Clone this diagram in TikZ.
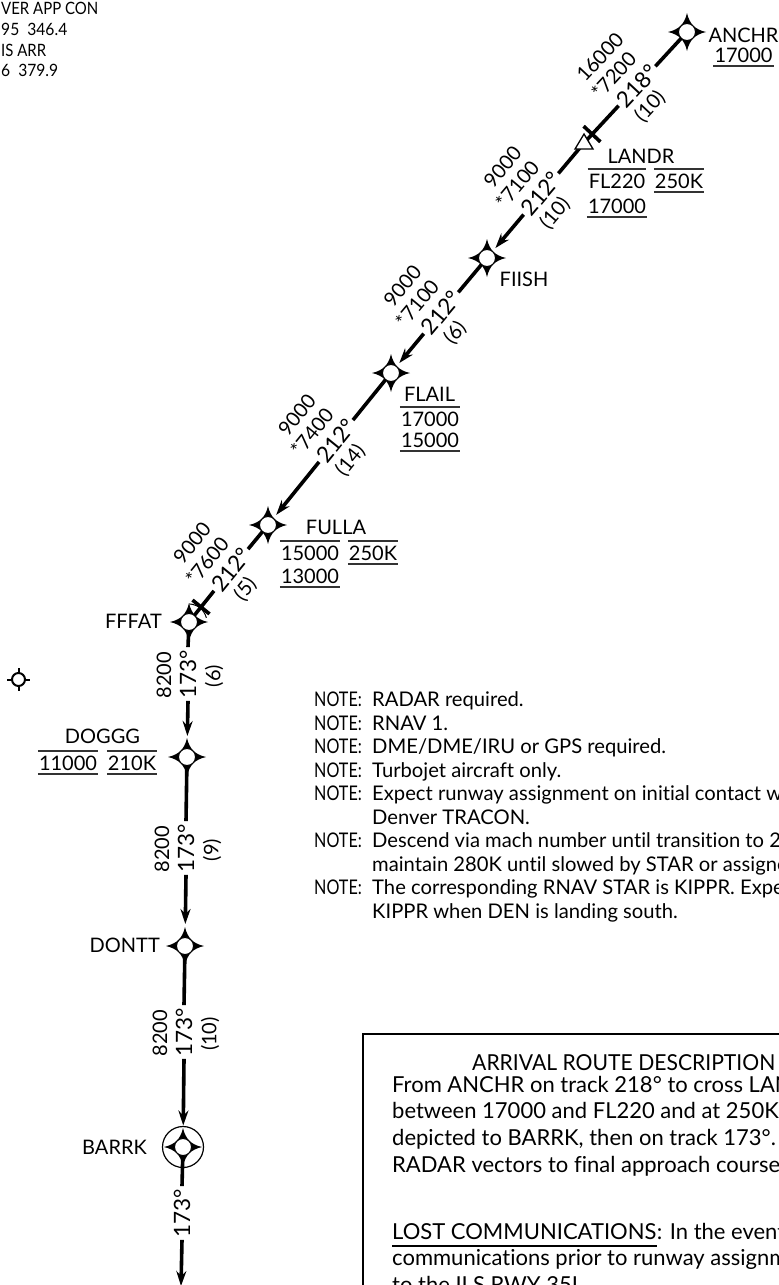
\documentclass[tikz,border=0pt]{standalone}
\usepackage{fontspec}
\setmainfont[Ligatures=NoCommon]{Lato}
\usetikzlibrary{arrows.meta,calc}
\newcommand{\wpstar}[1]{%
  \begin{scope}[shift={(#1)}]
    \fill (19,0) .. controls (8,-2.5) and (2.5,-8) .. (0,-19) .. controls (-2.5,-8) and (-8,-2.5) .. (-19,0) .. controls (-8,2.5) and (-2.5,8) .. (0,19) .. controls (2.5,8) and (8,2.5) .. (19,0) -- cycle;
    \filldraw[fill=white, line width=1pt] (0,0) circle (8.5);
  \end{scope}}
\newcommand{\ovl}[1]{\draw[rl] ([xshift=-1pt,yshift=19pt]#1.base west) -- ([xshift=1pt,yshift=19pt]#1.base east);}
\newcommand{\unl}[1]{\draw[rl] ([xshift=-1pt,yshift=-4pt]#1.base west) -- ([xshift=1pt,yshift=-4pt]#1.base east);}
\newcommand{\nt}{\scalebox{0.8}[1]{NOTE:}}
% diagonal segment labels: name, x, y, angle, degree, top, star, paren
\newcommand{\seglab}[8]{%
  \begin{scope}[shift={(#2,#3)}, rotate=#4, transform shape]
    \node[deg] (#1) at (0,0) {#5};
    \node[lbl] (#1t) at (-4,-47) {#6};
    \node[lbl] (#1s) at (-8,-24.5) {#7};
    \node[lbl] (#1p) at (-6,23.5) {#8};
  \end{scope}}
% vertical segment labels: name, x, y, degree, left, right
\newcommand{\vseglab}[6]{%
  \begin{scope}[shift={(#2,#3)}, rotate=90, transform shape]
    \node[deg] (#1) at (0,0) {#4};
    \node[lbl] (#1t) at (-1,-24) {#5};
    \node[lbl] (#1p) at (-2,26) {#6};
  \end{scope}}
\begin{document}
\begin{tikzpicture}[x=1pt,y=-1pt,
  lbl/.style={font=\fontsize{20}{24}\selectfont, inner sep=0pt},
  wl/.style={lbl, anchor=base},
  deg/.style={font=\fontsize{22.5}{26}\selectfont, inner sep=2.5pt},
  note/.style={font=\fontsize{20.2}{24}\selectfont, inner sep=0pt, anchor=base west},
  boxt/.style={font=\fontsize{22}{26}\selectfont, inner sep=0pt, anchor=base west},
  small/.style={font=\fontsize{17}{20}\selectfont, inner sep=0pt, anchor=base west},
  route/.style={line width=3.6pt},
  arr/.style={route, -{Stealth[length=15pt,width=10pt,inset=5pt]}},
  rl/.style={line width=1.3pt, black!80}]
\useasboundingbox (0,0) rectangle (779,1285);
\clip (0,0) rectangle (779,1285);

% top-left frequencies
\node[small] (f1) at (1,14) {\scalebox{0.88}[1]{VER APP CON}};
\node[small] (f2) at (1,35) {\scalebox{0.92}[1]{95\ \ 346.4}};
\node[small] (f3) at (1,56) {\scalebox{0.88}[1]{IS ARR}};
\node[small] (f4) at (1,76) {\scalebox{0.92}[1]{6\ \ 379.9}};

% waypoints
\node[coordinate] (ANCHR) at (687,32) {};
\node[coordinate] (LANDR) at (584,143) {};
\node[coordinate] (FIISH) at (487,258) {};
\node[coordinate] (FLAIL) at (391,373) {};
\node[coordinate] (FULLA) at (268,525) {};
\node[coordinate] (FFFAT) at (189,622) {};
\node[coordinate] (DOGGG) at (187,757) {};
\node[coordinate] (DONTT) at (185,946) {};
\node[coordinate] (BARRK) at (183,1147) {};
\node[coordinate] (END) at (181,1286) {};
\node[coordinate] (VOR) at (18.5,679.5) {};

% segment labels
\seglab{d1}{637}{86}{47}{218°}{16000}{*7200}{(10)}
\seglab{d2}{541}{194}{49.8}{212°}{9000}{*7100}{(10)}
\seglab{d3}{441}{313}{50.1}{212°}{9000}{*7100}{(6)}
\seglab{d4}{336}{441}{51}{212°}{9000}{*7400}{(14)}
\seglab{d5}{231}{570}{50.8}{212°}{9000}{*7600}{(5)}
\vseglab{d6}{188}{674}{173°}{8200}{(6)}
\vseglab{d7}{186}{848}{173°}{8200}{(9)}
\vseglab{d8}{184}{1032}{173°}{8200}{(10)}
\vseglab{d9}{182}{1213}{173°}{}{}

% route
\draw[route] (ANCHR) -- (d1.east);
\draw[route] (d1.west) -- (LANDR);
\draw[route] (LANDR) -- (d2.east);
\draw[arr, shorten >=13pt] (d2.west) -- (FIISH);
\draw[route] (FIISH) -- (d3.east);
\draw[arr, shorten >=13pt] (d3.west) -- (FLAIL);
\draw[route] (FLAIL) -- (d4.east);
\draw[arr, shorten >=13pt] (d4.west) -- (FULLA);
\draw[route] (FULLA) -- (d5.east);
\draw[route] (d5.west) -- (FFFAT);
\draw[route] (FFFAT) -- (d6.east);
\draw[arr, shorten >=21pt] (d6.west) -- (DOGGG);
\draw[route] (DOGGG) -- (d7.east);
\draw[arr, shorten >=22pt] (d7.west) -- (DONTT);
\draw[route] (DONTT) -- (d8.east);
\draw[arr, shorten >=21.5pt] (d8.west) -- (BARRK);
\draw[route] (BARRK) -- (d9.east);
\draw[arr] (d9.west) -- (END);

% bars and marks
\begin{scope}[shift={(592,134)}, rotate=47]
  \draw[line width=3.6pt] (0,-11.5) -- (0,11.5);
\end{scope}
\begin{scope}[shift={(201,607)}, rotate=50.8]
  \draw[line width=3.6pt] (0,-11) -- (0,11);
  \draw[line width=1pt] (-5,-11) to[bend left=35] (-5,11);
\end{scope}
\filldraw[fill=white, line width=1.3pt] (575,149) -- (584,134) -- (593,149) -- cycle;

% waypoint symbols
\wpstar{ANCHR}
\wpstar{FIISH}
\wpstar{FLAIL}
\wpstar{FULLA}
\wpstar{FFFAT}
\wpstar{DOGGG}
\wpstar{DONTT}
\wpstar{BARRK}
\draw[line width=1.2pt] (BARRK) circle (20.5);

% small symbol
\draw[line width=2pt] (VOR) circle (6.5);
\draw[line width=2pt] ($(VOR)+(0,-6.5)$) -- ++(0,-5);
\draw[line width=2pt] ($(VOR)+(0,6.5)$) -- ++(0,5);
\draw[line width=2pt] ($(VOR)+(-6.5,0)$) -- ++(-5,0);
\draw[line width=2pt] ($(VOR)+(6.5,0)$) -- ++(5,0);

% waypoint labels
\node[wl] (tANCHR) at (743.5,42) {ANCHR};
\node[wl] (aANCHR) at (743.5,62) {17000};
\unl{aANCHR}

\node[wl] (tLANDR) at (641,163) {LANDR};
\node[wl] (aLANDR1) at (617,188) {FL220};
\node[wl] (sLANDR) at (679,188) {250K};
\node[wl] (aLANDR2) at (617,213) {17000};
\ovl{aLANDR1}
\ovl{sLANDR}
\unl{sLANDR}
\unl{aLANDR2}

\node[wl] (tFIISH) at (524,286) {FIISH};

\node[wl] (tFLAIL) at (429.5,401) {FLAIL};
\node[wl] (aFLAIL1) at (430,426) {17000};
\node[wl] (aFLAIL2) at (430,447) {15000};
\ovl{aFLAIL1}
\unl{aFLAIL2}

\node[wl] (tFULLA) at (336,534) {FULLA};
\node[wl] (aFULLA1) at (310,560) {15000};
\node[wl] (sFULLA) at (373,560) {250K};
\node[wl] (aFULLA2) at (310,583) {13000};
\ovl{aFULLA1}
\ovl{sFULLA}
\unl{sFULLA}
\unl{aFULLA2}

\node[lbl, anchor=base east] (tFFFAT) at (162,628) {FFFAT};

\node[wl] (tDOGGG) at (102.5,743) {DOGGG};
\node[wl] (aDOGGG) at (68,770) {11000};
\node[wl] (sDOGGG) at (132,770) {210K};
\ovl{aDOGGG}
\unl{aDOGGG}
\ovl{sDOGGG}
\unl{sDOGGG}

\node[lbl, anchor=base east] (tDONTT) at (160,952) {DONTT};
\node[lbl, anchor=base east] (tBARRK) at (147,1154) {BARRK};

% notes
\node[note] (n1) at (314,706) {\nt};
\node[note] (n1b) at (372,706) {RADAR required.};
\node[note] (n2) at (314,730) {\nt};
\node[note] (n2b) at (372,730) {RNAV 1.};
\node[note] (n3) at (314,753) {\nt};
\node[note] (n3b) at (372,753) {DME/DME/IRU or GPS required.};
\node[note] (n4) at (314,777) {\nt};
\node[note] (n4b) at (372,777) {Turbojet aircraft only.};
\node[note] (n5) at (314,800) {\nt};
\node[note] (n5b) at (372,800) {Expect runway assignment on initial contact with};
\node[note] (n5c) at (372,824) {Denver TRACON.};
\node[note] (n6) at (314,847) {\nt};
\node[note] (n6b) at (372,847) {Descend via mach number until transition to 280K;};
\node[note] (n6c) at (372,871) {maintain 280K until slowed by STAR or assigned};
\node[note] (n7) at (314,894) {\nt};
\node[note] (n7b) at (372,894) {The corresponding RNAV STAR is KIPPR. Expect};
\node[note] (n7c) at (372,918) {KIPPR when DEN is landing south.};

% arrival route description box
\draw[line width=2pt] (363,1300) -- (363,1034) -- (800,1034);
\node[boxt] (bt) at (472,1070) {\scalebox{0.96}[1]{ARRIVAL ROUTE DESCRIPTION}};
\node[boxt] (b1) at (392,1092) {From ANCHR on track 218° to cross LANDR};
\node[boxt] (b2) at (392,1118.7) {between 17000 and FL220 and at 250K.};
\node[boxt] (b3) at (392,1145.4) {depicted to BARRK, then on track 173°. Expect};
\node[boxt] (b4) at (392,1172) {RADAR vectors to final approach course.};
\node[boxt] (b5) at (392,1239) {LOST COMMUNICATIONS};
\node[boxt, anchor=base west] (b5b) at (b5.base east) {: In the event of};
\draw[line width=1.2pt] ([yshift=-7pt]b5.base west) -- ([yshift=-7pt]b5.base east);
\node[boxt] (b6) at (392,1265.7) {communications prior to runway assignment,};
\node[boxt] (b7) at (392,1292.4) {to the ILS RWY 35L};
\end{tikzpicture}
\end{document}
